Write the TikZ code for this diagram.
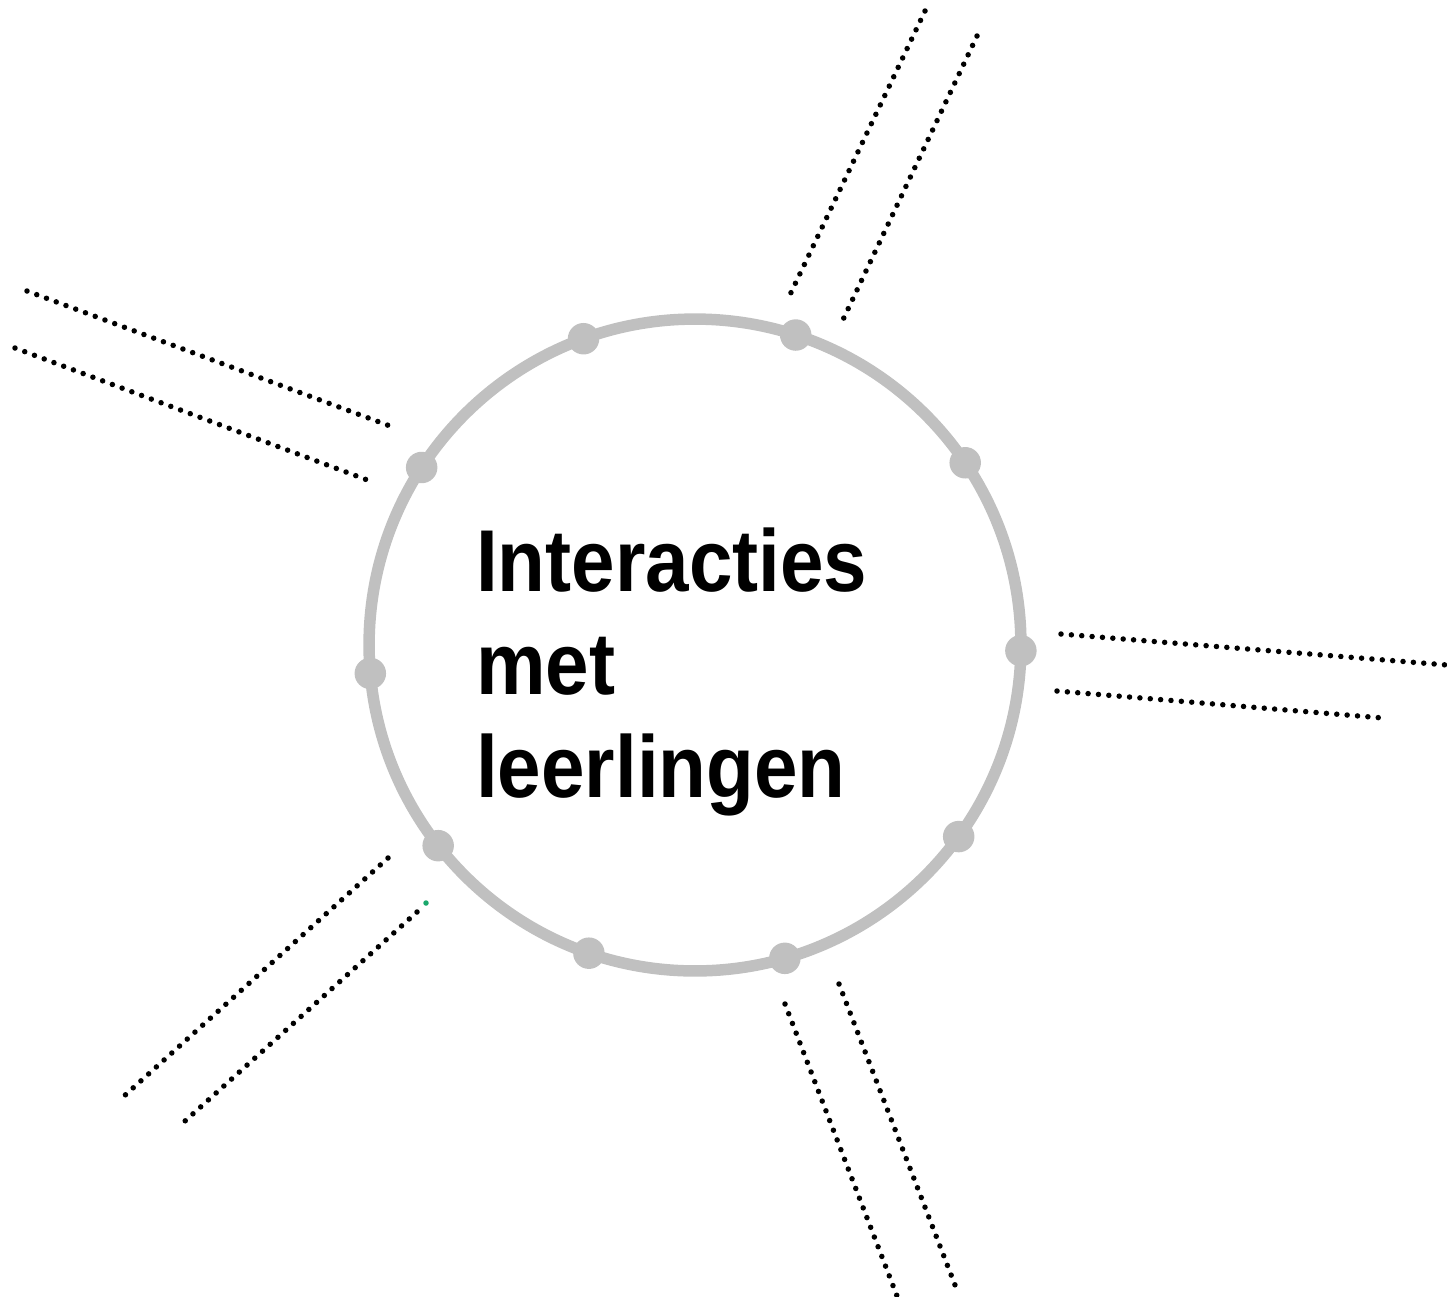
\documentclass[tikz,border=0pt]{standalone}
\usepackage{fontspec}
\setmainfont{Liberation Sans}
\newfontfamily\titlefont[FakeStretch=0.89]{Liberation Sans}
\definecolor{ringgray}{RGB}{192,192,192}
\definecolor{tipgreen}{RGB}{26,168,108}
\begin{document}
\begin{tikzpicture}[x=0.02cm,y=-0.02cm,
	ring/.style={circle,draw=ringgray,line width=0.23cm,minimum size=13.04cm,inner sep=0pt,outer sep=0pt},
	knob/.style={circle,fill=ringgray,minimum size=0.63cm,inner sep=0pt},
	spoke/.style={line width=0.11cm,line cap=round,dash pattern=on 0pt off 0.208cm}]
	\useasboundingbox (0,0) rectangle (1447,1296);
	\node[ring] (hub) at (695,645) {};
	\foreach \a in {110.7,72,34.6,-1.6,-36.5,-74.2,-109.3,-142.7,-175.8,147.7}
		\node[knob] at (hub.\a) {};
	\node[anchor=base west,align=left,font=\titlefont\bfseries\fontsize{50pt}{58.6pt}\selectfont] (title) at (470,797) {Interacties\\met\\leerlingen};
	% spokes
	\coordinate (A1a) at (925,11);   \coordinate (A1b) at (787,301);
	\coordinate (A2a) at (977,36);   \coordinate (A2b) at (840,326);
	\coordinate (B1a) at (27,291);   \coordinate (B1b) at (390,426);
	\coordinate (B2a) at (15,348);   \coordinate (B2b) at (370,481);
	\coordinate (C1a) at (1061,634); \coordinate (C1b) at (1447,665);
	\coordinate (C2a) at (1057,691); \coordinate (C2b) at (1383,718);
	\coordinate (D1a) at (388,858);  \coordinate (D1b) at (123,1097);
	\coordinate (D2a) at (417,912);  \coordinate (D2b) at (185,1121);
	\coordinate (E1a) at (785,1004); \coordinate (E1b) at (897,1296);
	\coordinate (E2a) at (839,984);  \coordinate (E2b) at (955,1285);
	\draw[spoke] (A1a) -- (A1b);
	\draw[spoke] (A2a) -- (A2b);
	\draw[spoke] (B1a) -- (B1b);
	\draw[spoke] (B2a) -- (B2b);
	\draw[spoke] (C1a) -- (C1b);
	\draw[spoke] (C2a) -- (C2b);
	\draw[spoke] (D1a) -- (D1b);
	\draw[spoke] (D2a) -- (D2b);
	\draw[spoke] (E1a) -- (E1b);
	\draw[spoke] (E2a) -- (E2b);
	\node[circle,fill=tipgreen,minimum size=0.11cm,inner sep=0pt] (tip) at (426,903) {};
\end{tikzpicture}
\end{document}
